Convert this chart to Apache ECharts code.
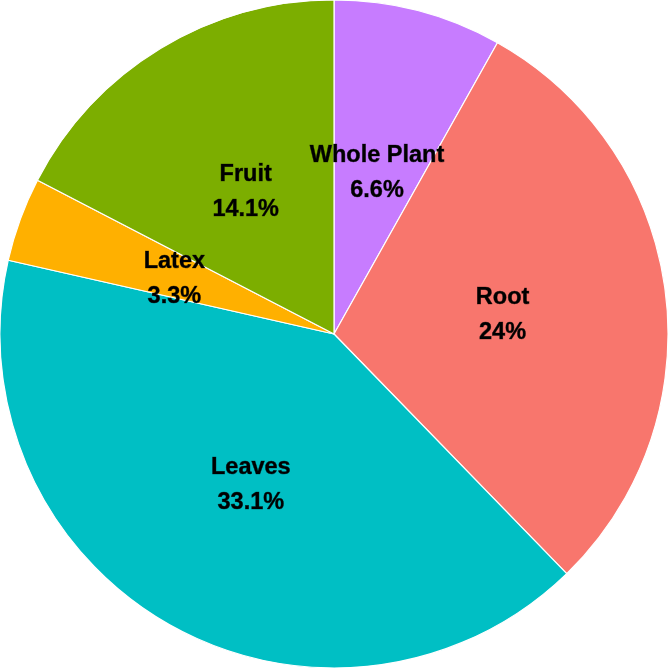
<!DOCTYPE html>
<html><head><meta charset="utf-8">
<script src="https://cdn.jsdelivr.net/npm/echarts@6/dist/echarts.min.js"></script>
<style>html,body{margin:0;padding:0;background:#fff}#c{width:669px;height:669px}</style>
</head><body><div id="c"></div>
<script>
const categories = ["Whole Plant", "Root", "Leaves", "Latex", "Fruit"];
const values = [6.6, 24, 33.1, 3.3, 14.1];
const colors = ["#C77CFF", "#F8766D", "#00BFC4", "#FFB000", "#7CAE00"];

const chart = echarts.init(document.getElementById('c'), null, {renderer: 'canvas'});
chart.setOption({
  animation: false,
  series: [{
    type: 'pie',
    center: [334, 334],
    radius: [0, 334],
    startAngle: 90,
    clockwise: true,
    avoidLabelOverlap: false,
    data: categories.map((n, i) => ({name: n, value: values[i], itemStyle: {color: colors[i]}})),
    itemStyle: {borderColor: '#ffffff', borderWidth: 1.2},
    label: {
      show: true,
      position: 'inside',
      offset: [0, 3],
      formatter: p => p.name + '\n' + p.value + '%',
      fontFamily: 'Liberation Sans, Arial, sans-serif',
      fontWeight: 'bold',
      fontSize: 23.5,
      lineHeight: 35,
      color: '#000',
      textBorderColor: 'rgba(0,0,0,0.6)',
      textBorderWidth: 0.6
    },
    labelLine: {show: false},
    emphasis: {disabled: true}
  }]
});
</script></body></html>
